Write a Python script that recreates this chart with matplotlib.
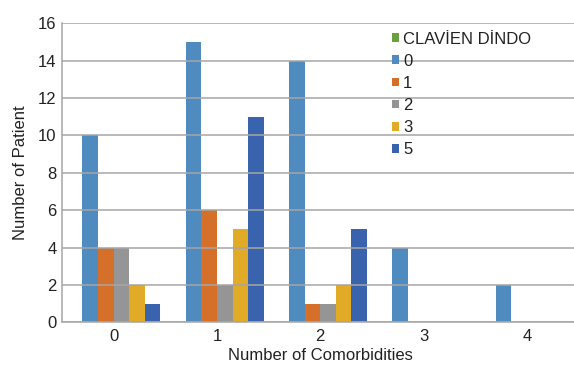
import matplotlib
matplotlib.use("Agg")
import matplotlib.pyplot as plt
from matplotlib.patches import Patch
import numpy as np

plt.rcParams['font.family'] = ['Liberation Sans', 'DejaVu Sans']

categories = ["0", "1", "2", "3", "4"]
series_names = ["CLAVİEN DİNDO", "0", "1", "2", "3", "5"]
clavien_header = [0, 0, 0, 0, 0]
grade_0 = [10, 15, 14, 4, 2]
grade_1 = [4, 6, 1, 0, 0]
grade_2 = [4, 2, 1, 0, 0]
grade_3 = [2, 5, 2, 0, 0]
grade_5 = [1, 11, 5, 0, 0]
colors = ["#6AA040", "#4F8BBE", "#D5702B", "#959595", "#E1AA27", "#3A63AE"]

values = [clavien_header, grade_0, grade_1, grade_2, grade_3, grade_5]

fig = plt.figure(figsize=(5.74, 3.65), dpi=100)
ax = fig.add_axes([62 / 574, 42.7 / 365, (578.5 - 62) / 574, 299 / 365])

x = np.arange(len(categories))
width = 0.151
n = len(values)
for i, (vals, col) in enumerate(zip(values, colors)):
    ax.bar(x + (i - (n - 1) / 2) * width, vals, width=width, color=col,
           linewidth=0, zorder=1)

fs = 12
ax.set_xlim(-0.5, 4.5)
ax.set_ylim(0, 16)
ax.set_yticks(range(0, 17, 2))
ax.set_xticks(x)
ax.set_xticklabels(categories)
ax.tick_params(axis='both', length=0, labelsize=fs, colors="#222222")
ax.tick_params(axis='y', pad=4)
ax.tick_params(axis='x', pad=5)

ax.set_axisbelow(False)
ax.yaxis.grid(True, color="#A6A6A6", linewidth=1.1, zorder=3)
for s in ["top", "right"]:
    ax.spines[s].set_visible(False)
for s in ["left", "bottom"]:
    ax.spines[s].set_color("#A6A6A6")
    ax.spines[s].set_linewidth(1.1)

ax.set_xlabel("Number of Comorbidities", fontsize=fs, color="#222222", labelpad=2.5)
ax.set_ylabel("Number of Patient", fontsize=fs, color="#222222", labelpad=7)

handles = [Patch(facecolor=c, edgecolor='none') for c in colors]
leg = ax.legend(handles, series_names, loc='upper left',
                bbox_to_anchor=((392 - 62) / 516.5, (322.3 - 31.5) / 299),
                frameon=False, fontsize=fs, handlelength=0.42,
                handleheight=0.42, handletextpad=0.25, labelspacing=0.43,
                borderaxespad=0, borderpad=0)
for t in leg.get_texts():
    t.set_color("#222222")

fig.savefig("out.png", dpi=100)
